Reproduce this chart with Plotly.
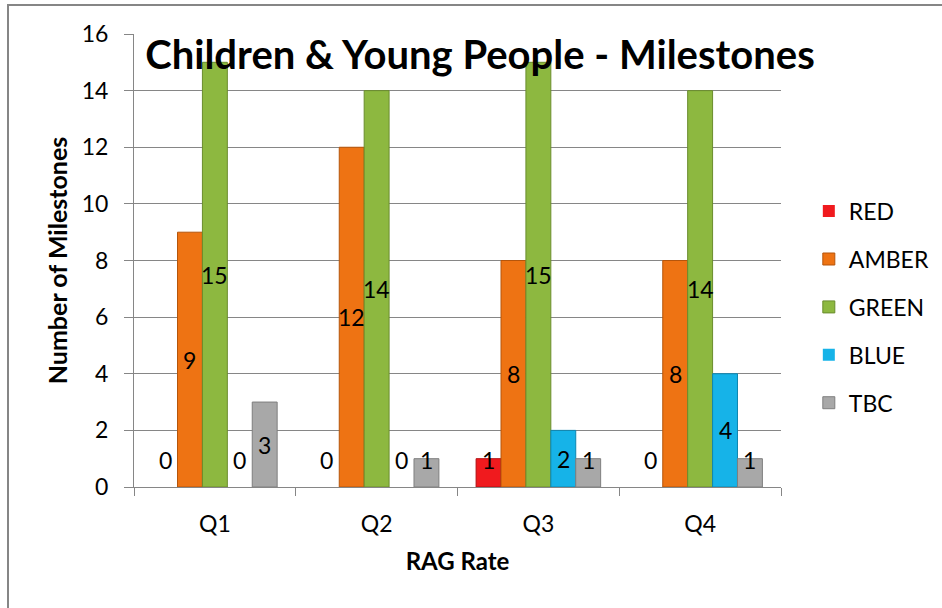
import plotly.graph_objects as go

# Quarterly milestone counts by RAG status
quarters = ["Q1", "Q2", "Q3", "Q4"]
series_names = ["RED", "AMBER", "GREEN", "BLUE", "TBC"]
red = [0, 0, 1, 0]
amber = [9, 12, 8, 8]
green = [15, 14, 15, 14]
blue = [0, 0, 2, 4]
tbc = [3, 1, 1, 1]
y_ticks = [0, 2, 4, 6, 8, 10, 12, 14, 16]

values = [red, amber, green, blue, tbc]
fills = ["#f01a1e", "#ee7313", "#8db840", "#16b3e8", "#a8a8a8"]
edges = ["#b30f12", "#b5550b", "#6a8c2c", "#0e86b0", "#7f7f7f"]

W, H = 942, 608
ML, MR, MT, MB = 134, 161, 34, 121
BARGAP = 0.23
FONT = "Lato"
GRID = "#868686"
TXT = 23

fig = go.Figure()
for name, vals, fc, ec in zip(series_names, values, fills, edges):
    fig.add_trace(go.Bar(
        name=name, x=quarters, y=vals,
        marker=dict(color=fc,
                    line=dict(color=ec, width=[1 if v > 0 else 0 for v in vals])),
        legendgroup=name,
    ))

# value labels centred on each bar, kept clear of the axis for short bars
plot_w = W - ML - MR
plot_h = H - MT - MB
bar_px = plot_w / len(quarters) * (1 - BARGAP) / len(series_names)
annotations = []
for i, vals in enumerate(values):
    shift = (i - (len(series_names) - 1) / 2) * bar_px
    for q, v in zip(quarters, vals):
        annotations.append(dict(
            x=q, y=max(v / 2, 0.95), xref="x", yref="y", xshift=shift,
            text=str(v), showarrow=False,
            font=dict(family=FONT, size=TXT, color="black"),
        ))

fig.update_layout(
    width=W, height=H,
    margin=dict(l=ML, r=MR, t=MT, b=MB, autoexpand=False),
    paper_bgcolor="white", plot_bgcolor="white",
    barmode="group", bargap=BARGAP, bargroupgap=0,
    font=dict(family=FONT, size=TXT, color="black"),
    title=dict(
        text="<b>Children & Young People - Milestones</b>",
        x=480 / W, xanchor="center", y=1 - 55 / H, yanchor="middle",
        font=dict(family=FONT, size=40, color="black"),
    ),
    legend=dict(
        x=1.043, xanchor="left", y=0.397, yanchor="middle",
        font=dict(family=FONT, size=TXT),
        tracegroupgap=15, itemclick=False,
    ),
    annotations=annotations,
    shapes=[dict(
        type="rect", xref="paper", yref="paper",
        x0=(8 - ML) / plot_w, x1=(W + 10 - ML) / plot_w,
        y0=-(MB + 10) / plot_h, y1=(H - MB - 5) / plot_h,
        line=dict(color=GRID, width=2), fillcolor="rgba(0,0,0,0)", layer="below",
    )],
    xaxis=dict(
        showline=True, linecolor=GRID, linewidth=1,
        ticks="outside", tickson="boundaries", ticklen=8, tickcolor=GRID,
        ticklabelstandoff=16,
        title=dict(text="<b>RAG Rate</b>", font=dict(family=FONT, size=24), standoff=17),
        tickfont=dict(family=FONT, size=TXT),
    ),
    yaxis=dict(
        range=[0, 16], tickvals=y_ticks,
        showline=True, linecolor=GRID, linewidth=1,
        showgrid=True, gridcolor=GRID, gridwidth=1,
        ticks="outside", ticklen=9, tickcolor=GRID,
        ticklabelstandoff=11, zeroline=False,
        title=dict(text="<b>Number of Milestones</b>", font=dict(family=FONT, size=25), standoff=6),
        tickfont=dict(family=FONT, size=TXT),
    ),
)

fig.write_html("out.html")
